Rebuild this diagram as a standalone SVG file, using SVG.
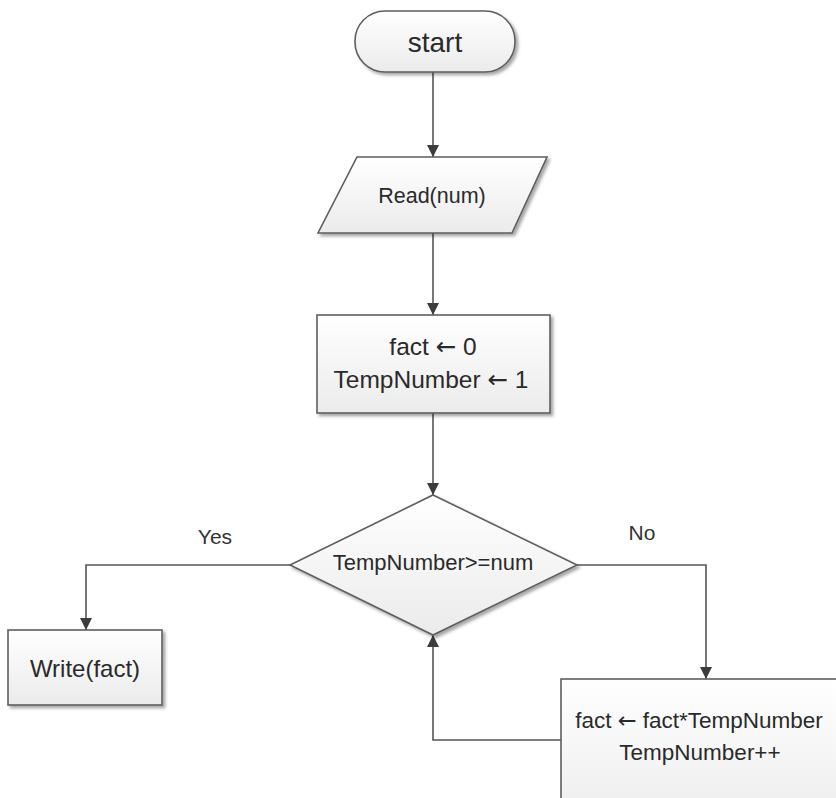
<svg xmlns="http://www.w3.org/2000/svg" width="836" height="798" viewBox="0 0 836 798">
  <defs>
    <linearGradient id="fillGrad" x1="0" y1="0" x2="0" y2="1">
      <stop offset="0" stop-color="#ffffff"/>
      <stop offset="1" stop-color="#ebebeb"/>
    </linearGradient>
    <filter id="shadow" x="-10%" y="-10%" width="130%" height="140%">
      <feDropShadow dx="2.5" dy="2.5" stdDeviation="1.6" flood-color="#000" flood-opacity="0.35"/>
    </filter>
    <marker id="arrow" markerUnits="userSpaceOnUse" markerWidth="13" markerHeight="13" refX="12" refY="6" orient="auto">
      <path d="M0,0 L12,6 L0,12 Z" fill="#3c3c3c"/>
    </marker>
    <style>
      .shape { fill: url(#fillGrad); stroke: #5e5e5e; stroke-width: 1.6; filter: url(#shadow); }
      .label { font-family: "Liberation Sans", Arial, sans-serif; fill: #2a2a2a; text-anchor: middle; }
      .sym { font-family: "DejaVu Sans", sans-serif; }
      .edge { fill: none; stroke: #555555; stroke-width: 1.6; marker-end: url(#arrow); }
      .edge-label { font-family: "Liberation Sans", Arial, sans-serif; fill: #333333; font-size: 21px; text-anchor: middle; }
    </style>
  </defs>

  <rect width="836" height="798" fill="#ffffff"/>

  <!-- connectors -->
  <g id="connectors">
    <path class="edge" d="M433,72 L433,157"/>
    <path class="edge" d="M433,233 L433,315"/>
    <path class="edge" d="M433,413 L433,495"/>
    <path class="edge" d="M290,565 L86,565 L86,630"/>
    <path class="edge" d="M577,565 L706,565 L706,679"/>
    <path class="edge" d="M561,740 L433,740 L433,635"/>
    <text class="edge-label" x="215" y="544">Yes</text>
    <text class="edge-label" x="642" y="540">No</text>
  </g>

  <!-- start terminal -->
  <g id="start">
    <rect class="shape" x="355" y="11" width="160" height="61" rx="30" ry="30"/>
    <text class="label" x="435" y="52" font-size="28">start</text>
  </g>

  <!-- input -->
  <g id="read">
    <polygon class="shape" points="357,157 547,157 512,233 318,233"/>
    <text class="label" x="432" y="203" font-size="21.5">Read(num)</text>
  </g>

  <!-- initialisation -->
  <g id="init">
    <rect class="shape" x="317" y="315" width="233" height="98"/>
    <text class="label" x="433" y="355" font-size="24.5">fact <tspan class="sym">←</tspan> 0</text>
    <text class="label" x="431" y="388" font-size="24.5">TempNumber <tspan class="sym">←</tspan> 1</text>
  </g>

  <!-- loop condition -->
  <g id="condition">
    <polygon class="shape" points="433,495 577,565 433,635 290,565"/>
    <text class="label" x="433" y="570" font-size="22">TempNumber&gt;=num</text>
  </g>

  <!-- output -->
  <g id="write">
    <rect class="shape" x="8" y="630" width="154" height="75"/>
    <text class="label" x="85" y="677" font-size="24">Write(fact)</text>
  </g>

  <!-- loop body -->
  <g id="body">
    <rect class="shape" x="561" y="679" width="320" height="160"/>
    <text class="label" x="699" y="728" font-size="22.5">fact <tspan class="sym">←</tspan> fact*TempNumber</text>
    <text class="label" x="700" y="760" font-size="22.5">TempNumber++</text>
  </g>
</svg>
